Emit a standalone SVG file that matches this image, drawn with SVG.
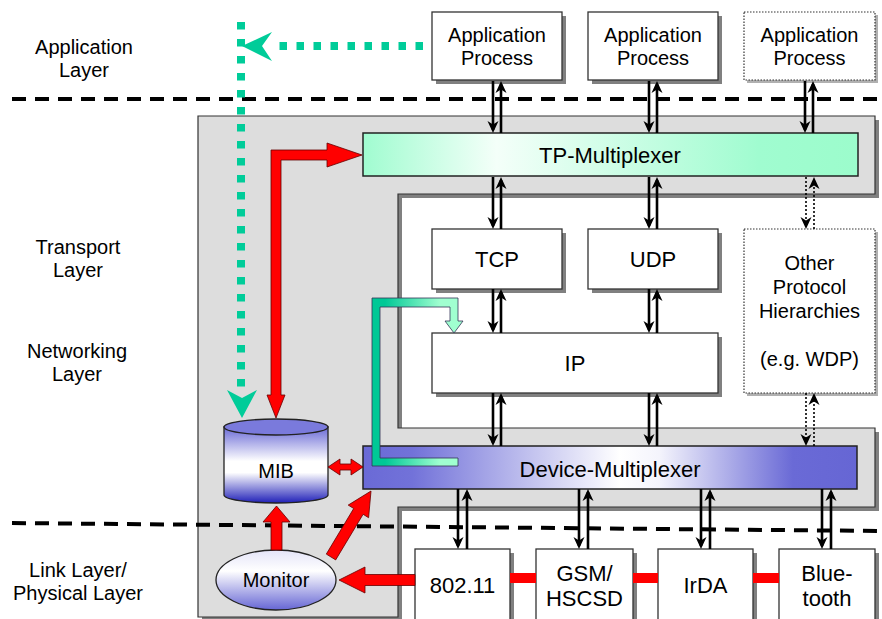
<svg xmlns="http://www.w3.org/2000/svg" width="882" height="619" viewBox="0 0 882 619">
<style>
text{font-family:"Liberation Sans",Arial,sans-serif;fill:#000;text-anchor:middle}
.t20{font-size:20px}
.t22{font-size:22px}
.box{fill:#fff;stroke:#333;stroke-width:1.3}
.dbox{fill:#fff;stroke:#333;stroke-width:1.2;stroke-dasharray:1.5 1.5}
.sh{fill:#808080}
.ar{stroke:#000;stroke-width:2.6;fill:none;marker-end:url(#ah)}
.ard{stroke:#000;stroke-width:1.6;stroke-dasharray:2 2;fill:none;marker-end:url(#ah)}
.red{fill:#ff0000;stroke:#600;stroke-width:0.8}
.dash{stroke:#000;stroke-width:4;stroke-dasharray:14 9;fill:none}
.gdot{stroke:#00cc99;stroke-width:8;stroke-dasharray:7.5 9.5;fill:none}
</style>
<defs>
<marker id="ah" viewBox="-13 -7 16 14" refX="-3" refY="0" markerWidth="16" markerHeight="14" markerUnits="userSpaceOnUse" orient="auto" overflow="visible">
<path d="M0,0 L-12,-5.5 L-8.5,0 L-12,5.5 Z" fill="#000"/>
</marker>
<linearGradient id="gTP" x1="0" y1="0" x2="1" y2="0">
<stop offset="0" stop-color="#a0fcd0"/><stop offset="0.27" stop-color="#f4fff9"/><stop offset="0.8" stop-color="#a0fcd0"/><stop offset="1" stop-color="#9cfccc"/>
</linearGradient>
<linearGradient id="gDev" x1="0" y1="0" x2="1" y2="0">
<stop offset="0" stop-color="#6a6ad6"/><stop offset="0.1" stop-color="#7272d9"/><stop offset="0.52" stop-color="#ffffff"/><stop offset="0.6" stop-color="#f4f4fc"/><stop offset="0.87" stop-color="#6a6ad6"/><stop offset="1" stop-color="#6666d4"/>
</linearGradient>
<linearGradient id="gMIB" x1="0" y1="0" x2="0" y2="1">
<stop offset="0" stop-color="#6a6ad6"/><stop offset="0.45" stop-color="#ffffff"/><stop offset="0.6" stop-color="#ffffff"/><stop offset="1" stop-color="#2020b8"/>
</linearGradient>
<linearGradient id="gMon" x1="0" y1="0" x2="0" y2="1">
<stop offset="0" stop-color="#e4e4f8"/><stop offset="0.35" stop-color="#ffffff"/><stop offset="1" stop-color="#6666d4"/>
</linearGradient>
<linearGradient id="gGreen" gradientUnits="userSpaceOnUse" x1="385" y1="0" x2="440" y2="0">
<stop offset="0" stop-color="#00c896"/><stop offset="1" stop-color="#a0ffd0"/>
</linearGradient>
</defs>

<g id="region">
<path d="M198,116 H875 V194 H398 V428 H875 V507 H398 V617 H198 Z" class="sh" transform="translate(4,4)"/>
<path d="M198,116 H875 V194 H398 V428 H875 V507 H398 V617 H198 Z" fill="#dddddd" stroke="#333" stroke-width="1.2"/>
</g>

<g id="layer-lines">
<line x1="12" y1="99" x2="882" y2="99" class="dash"/>
<line x1="12" y1="523" x2="882" y2="531" class="dash"/>
</g>

<g id="layer-labels">
<text class="t20" x="84" y="54">Application</text>
<text class="t20" x="84" y="77">Layer</text>
<text class="t20" x="78" y="254">Transport</text>
<text class="t20" x="78" y="277">Layer</text>
<text class="t20" x="77" y="358">Networking</text>
<text class="t20" x="77" y="381">Layer</text>
<text class="t20" x="78" y="577">Link Layer/</text>
<text class="t20" x="78" y="600">Physical Layer</text>
</g>

<g id="app1">
<rect x="436" y="16" width="130" height="68" class="sh"/>
<rect x="432" y="12" width="130" height="68" class="box"/>
<text class="t20" x="497" y="42">Application</text>
<text class="t20" x="497" y="65">Process</text>
</g>
<g id="app2">
<rect x="592" y="16" width="130" height="68" class="sh"/>
<rect x="588" y="12" width="130" height="68" class="box"/>
<text class="t20" x="653" y="42">Application</text>
<text class="t20" x="653" y="65">Process</text>
</g>
<g id="app3">
<rect x="747" y="15" width="131" height="68" fill="#b0b0b0"/>
<rect x="744" y="12" width="131" height="68" class="dbox"/>
<text class="t20" x="809.5" y="42">Application</text>
<text class="t20" x="809.5" y="65">Process</text>
</g>

<g id="tp-mux">
<rect x="363" y="133" width="495" height="43" fill="url(#gTP)" stroke="#222" stroke-width="1.5"/>
<text class="t22" x="610" y="163">TP-Multiplexer</text>
</g>

<g id="tcp">
<rect x="436" y="233" width="130" height="60" class="sh"/>
<rect x="432" y="229" width="130" height="60" class="box"/>
<text class="t22" x="497" y="267">TCP</text>
</g>
<g id="udp">
<rect x="592" y="233" width="130" height="60" class="sh"/>
<rect x="588" y="229" width="130" height="60" class="box"/>
<text class="t22" x="653" y="267">UDP</text>
</g>
<g id="ip">
<rect x="436" y="337" width="286" height="60" class="sh"/>
<rect x="432" y="333" width="286" height="60" class="box"/>
<text class="t22" x="575" y="371">IP</text>
</g>
<g id="other">
<rect x="747" y="232" width="131" height="164" fill="#b0b0b0"/>
<rect x="744" y="229" width="131" height="164" class="dbox"/>
<text class="t20" x="809.5" y="270">Other</text>
<text class="t20" x="809.5" y="294">Protocol</text>
<text class="t20" x="809.5" y="318">Hierarchies</text>
<text class="t20" x="809.5" y="366">(e.g. WDP)</text>
</g>

<g id="dev-mux">
<rect x="363" y="446" width="494" height="43" fill="url(#gDev)" stroke="#222" stroke-width="1.5"/>
<text class="t22" x="610" y="477">Device-Multiplexer</text>
</g>

<g id="mib">
<path d="M224,427 V495 A52,8 0 0 0 328,495 V427 Z" fill="url(#gMIB)" stroke="#222" stroke-width="1.3"/>
<ellipse cx="276" cy="427" rx="52" ry="8" fill="#7a7adc" stroke="#222" stroke-width="1.3"/>
<text class="t20" x="276" y="478">MIB</text>
</g>

<g id="monitor">
<ellipse cx="276" cy="580" rx="60" ry="30" fill="url(#gMon)" stroke="#222" stroke-width="1.3"/>
<text class="t20" x="276" y="587">Monitor</text>
</g>

<g id="wlan">
<rect x="419" y="553" width="95" height="80" class="sh"/>
<rect x="415" y="549" width="95" height="80" class="box"/>
<text class="t22" x="462.5" y="593">802.11</text>
</g>
<g id="gsm">
<rect x="540" y="553" width="97" height="80" class="sh"/>
<rect x="536" y="549" width="97" height="80" class="box"/>
<text class="t22" x="584.5" y="581">GSM/</text>
<text class="t22" x="584.5" y="606">HSCSD</text>
</g>
<g id="irda">
<rect x="662" y="553" width="95" height="80" class="sh"/>
<rect x="658" y="549" width="95" height="80" class="box"/>
<text class="t22" x="705.5" y="593">IrDA</text>
</g>
<g id="bluetooth">
<rect x="783" y="553" width="96" height="80" class="sh"/>
<rect x="779" y="549" width="96" height="80" class="box"/>
<text class="t22" x="827" y="581">Blue-</text>
<text class="t22" x="827" y="606">tooth</text>
</g>

<g id="connectors">
<line x1="493" y1="81" x2="493" y2="130" class="ar"/>
<line x1="501" y1="133" x2="501" y2="84" class="ar"/>
<line x1="649" y1="81" x2="649" y2="130" class="ar"/>
<line x1="657" y1="133" x2="657" y2="84" class="ar"/>
<line x1="805" y1="81" x2="805" y2="130" class="ar"/>
<line x1="813" y1="133" x2="813" y2="84" class="ar"/>
<line x1="493" y1="177" x2="493" y2="226" class="ar"/>
<line x1="501" y1="229" x2="501" y2="180" class="ar"/>
<line x1="649" y1="177" x2="649" y2="226" class="ar"/>
<line x1="657" y1="229" x2="657" y2="180" class="ar"/>
<line x1="806" y1="177" x2="806" y2="226" class="ard"/>
<line x1="814" y1="229" x2="814" y2="180" class="ard"/>
<line x1="493" y1="289" x2="493" y2="330" class="ar"/>
<line x1="501" y1="333" x2="501" y2="292" class="ar"/>
<line x1="649" y1="289" x2="649" y2="330" class="ar"/>
<line x1="657" y1="333" x2="657" y2="292" class="ar"/>
<line x1="493" y1="393" x2="493" y2="443" class="ar"/>
<line x1="501" y1="446" x2="501" y2="396" class="ar"/>
<line x1="649" y1="393" x2="649" y2="443" class="ar"/>
<line x1="657" y1="446" x2="657" y2="396" class="ar"/>
<line x1="806" y1="393" x2="806" y2="443" class="ard"/>
<line x1="814" y1="446" x2="814" y2="396" class="ard"/>
<line x1="458" y1="489" x2="458" y2="546" class="ar"/>
<line x1="467" y1="549" x2="467" y2="492" class="ar"/>
<line x1="579" y1="489" x2="579" y2="546" class="ar"/>
<line x1="588" y1="549" x2="588" y2="492" class="ar"/>
<line x1="701" y1="489" x2="701" y2="546" class="ar"/>
<line x1="710" y1="549" x2="710" y2="492" class="ar"/>
<line x1="822" y1="489" x2="822" y2="546" class="ar"/>
<line x1="831" y1="549" x2="831" y2="492" class="ar"/>

<rect x="510" y="573" width="26" height="10" fill="#ff0000"/>
<rect x="633" y="573" width="25" height="10" fill="#ff0000"/>
<rect x="753" y="573" width="26" height="10" fill="#ff0000"/>

<line x1="423" y1="46" x2="272" y2="46" class="gdot"/>
<path d="M242,46 L272,32 L262,46 L272,61 Z" fill="#00cc99"/>
<line x1="241" y1="22" x2="241" y2="392" class="gdot"/>
<path d="M242,418 L227,390 L242,398 L257,390 Z" fill="#00cc99"/>

<path d="M276,418 L285,395 L281,395 L281,160 L327,160 L327,167 L362,155 L327,143 L327,150 L271,150 L271,395 L267,395 Z" class="red"/>
<path d="M328,467 L340,459 L340,464 L351,464 L351,459 L363,467 L351,475 L351,470 L340,470 L340,475 Z" class="red"/>
<path d="M271,550 L271,522 L263,522 L276.5,506 L290,522 L282,522 L282,550 Z" class="red"/>
<path d="M326.3,554.1 L353.7,508.5 L348.2,505.1 L371,491 L368.6,517.7 L363.1,514.3 L335.7,559.9 Z" class="red"/>
<path d="M415,574.5 L365,574.5 L365,567 L339,580 L365,593 L365,585.5 L415,585.5 Z" class="red"/>

<path d="M372,298 L458,298 L458,321 L463,321 L454,333 L445,321 L450,321 L450,307 L380,307 L380,458 L458,458 L458,466 L372,466 Z" fill="url(#gGreen)" stroke="#335" stroke-width="0.8"/>
</g>
</svg>
